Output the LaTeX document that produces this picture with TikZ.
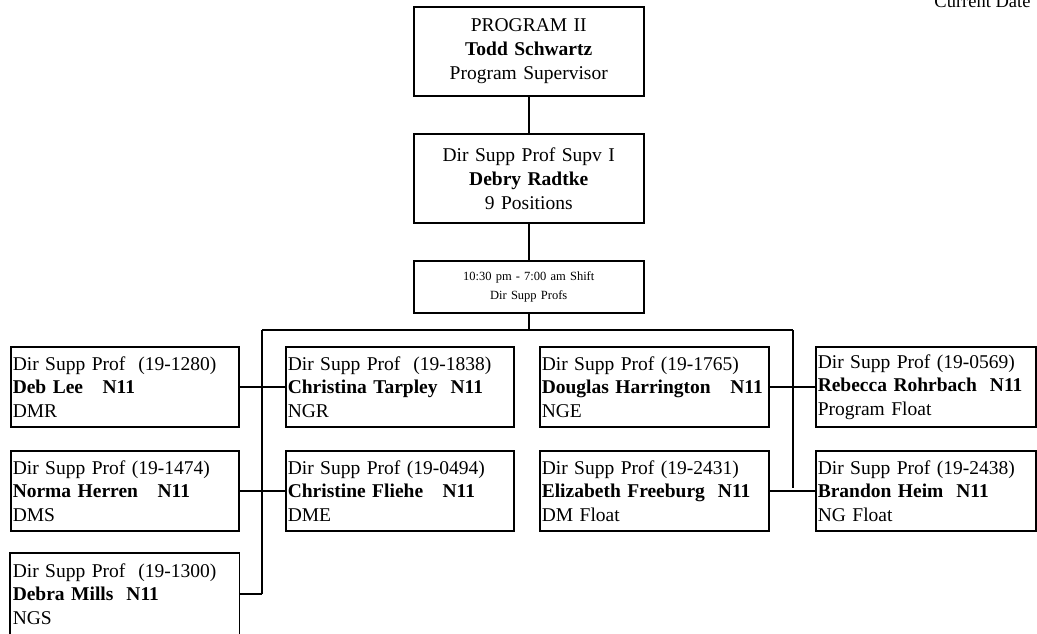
\documentclass[tikz,border=0pt]{standalone}
\usepackage{fontspec}
\setmainfont{Liberation Serif}
\begin{document}
\begin{tikzpicture}[x=1pt,y=-1pt,
  line/.style={draw, line width=1.5pt},
  topbox/.style={draw, line width=1.5pt, anchor=north west, inner xsep=2pt, inner ysep=0pt,
    text width=226pt, minimum height=89pt, align=center, font=\fontsize{19.5}{24}\selectfont},
  shiftbox/.style={draw, line width=1.5pt, anchor=north west, inner xsep=2pt, inner ysep=0pt,
    text width=226pt, minimum height=52pt, align=center, font=\fontsize{12.5}{19.5}\selectfont},
  emp/.style={draw, line width=1.5pt, anchor=north west, inner xsep=2pt, inner ysep=0pt,
    text width=224pt, minimum height=80pt, align=left, font=\fontsize{19.5}{23.5}\selectfont},
  empr/.style={emp, text width=216pt}
]
\useasboundingbox (0,0) rectangle (1037,633);

\node[anchor=base east, font=\fontsize{18.5}{20}\selectfont] (date) at (1034,7) {Current Date};

\node[topbox] (prog) at (413,6) {PROGRAM II\\\textbf{Todd Schwartz}\\Program Supervisor};
\node[topbox] (supv) at (413,133) {Dir Supp Prof Supv I\\\textbf{Debry Radtke}\\9 Positions};
\node[shiftbox] (shift) at (413,260) {10:30 pm - 7:00 am Shift\\Dir Supp Profs};

\node[emp] (a1) at (10,346) {Dir Supp Prof\ \ (19-1280)\\\textbf{Deb Lee\ \ \ N11}\\DMR};
\node[emp] (a2) at (10,450) {Dir Supp Prof (19-1474)\\\textbf{Norma Herren\ \ \ N11}\\DMS};
\node[emp, draw=none] (a3) at (10,553) {Dir Supp Prof\ \ (19-1300)\\\textbf{Debra Mills\ \ N11}\\NGS};
\draw[line] ([yshift=-12pt]a3.south west) -- (a3.north west) -- (a3.north east) -- ([yshift=-12pt]a3.south east);

\node[emp] (b1) at (285,346) {Dir Supp Prof\ \ (19-1838)\\\textbf{Christina Tarpley\ \ N11}\\NGR};
\node[emp] (b2) at (285,450) {Dir Supp Prof (19-0494)\\\textbf{Christine Fliehe\ \ \ N11}\\DME};

\node[emp, text width=225pt] (c1) at (539,346) {Dir Supp Prof (19-1765)\\\textbf{Douglas Harrington\ \ \ N11}\\NGE};
\node[emp, text width=225pt] (c2) at (539,450) {Dir Supp Prof (19-2431)\\\textbf{Elizabeth Freeburg\ \ N11}\\DM Float};

\node[empr] (d1) at (815,346) {Dir Supp Prof (19-0569)\\\textbf{Rebecca Rohrbach\ \ N11}\\Program Float};
\node[empr] (d2) at (815,450) {Dir Supp Prof (19-2438)\\\textbf{Brandon Heim\ \ N11}\\NG Float};

\coordinate (barL) at (262,330);
\coordinate (barR) at (793,330);
\coordinate (barM) at (shift.south |- barL);

\draw[line] (prog.south) -- (supv.north);
\draw[line] (supv.south) -- (shift.north);
\draw[line] (shift.south) -- (barM);
\draw[line] (barL) -- (barR);

\coordinate (l3) at (262,594);
\draw[line] (barL) -- (l3);
\draw[line] (a1.east) -- (b1.west);
\draw[line] (a2.east) -- (b2.west);
\draw[line] (l3) -- (l3 -| a3.east);

\coordinate (r2) at (793,488);
\draw[line] (barR) -- (r2);
\draw[line] (c1.east) -- (d1.west);
\draw[line] (c2.east) -- (d2.west);
\end{tikzpicture}
\end{document}
